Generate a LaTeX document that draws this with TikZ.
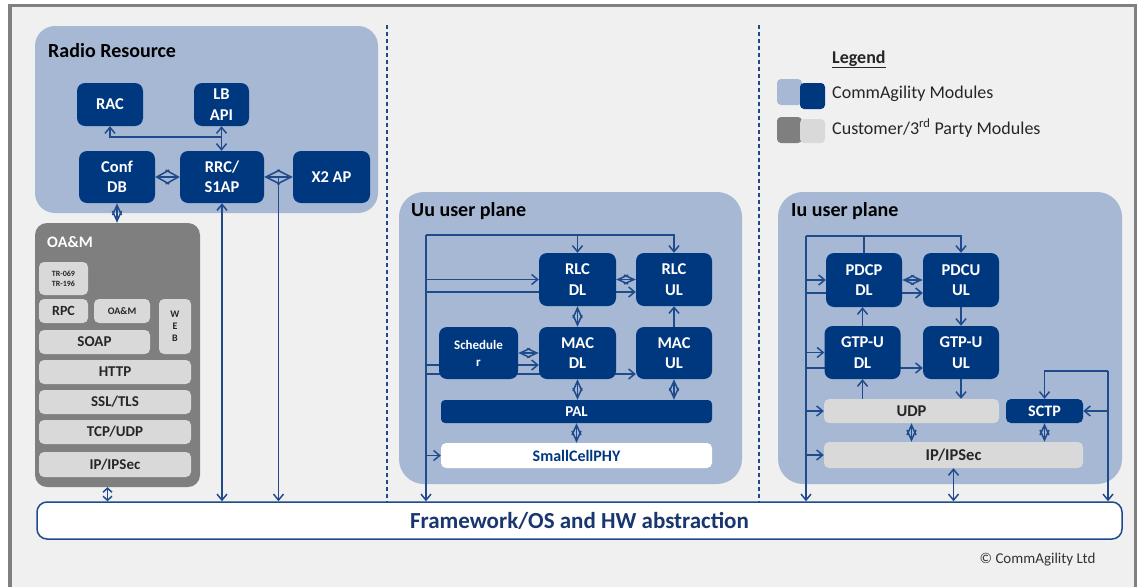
\documentclass[tikz,border=0pt]{standalone}
\usepackage{fontspec}
\setmainfont{Carlito}
\usetikzlibrary{arrows.meta,calc}
\definecolor{bgc}{RGB}{240,240,240}
\definecolor{framec}{RGB}{128,128,128}
\definecolor{panelc}{RGB}{166,184,211}
\definecolor{navy}{RGB}{0,56,128}
\definecolor{linec}{RGB}{31,75,140}
\definecolor{oamc}{RGB}{127,127,127}
\definecolor{lgray}{RGB}{217,217,217}
\definecolor{fwtext}{RGB}{25,55,110}
\pgfdeclarelayer{back}
\pgfdeclarelayer{wires}
\pgfsetlayers{back,wires,main}
\newcommand{\fsz}[2]{\fontsize{#1}{#2}\selectfont}

\begin{document}
\begin{tikzpicture}[x=1pt,y=-1pt,>={Straight Barb[length=6pt,width=10pt]},
  wire/.style={draw=linec,line width=1.5pt},
  dia/.style={>={Straight Barb[length=#1,width=9pt]},<->}, dia/.default=10pt,
  bigdia/.style={>={Straight Barb[length=#1,width=14pt]},<->},
  wh/.style 2 args={minimum width=#1pt,minimum height=#2pt},
  panel/.style={fill=panelc,rounded corners=20pt,inner sep=0pt},
  mod/.style={fill=navy,rounded corners=8pt,text=white,align=center,inner sep=0pt,
    font=\bfseries\fsz{16.5}{20.5}},
  cust/.style={fill=lgray,rounded corners=5pt,text=black!85,align=center,inner sep=0pt,
    font=\bfseries\fsz{15}{18}},
  ptitle/.style={anchor=base west,inner sep=0pt,font=\bfseries\fsz{20}{24}},
  legtext/.style={anchor=base west,inner sep=0pt,text=black!85,font=\fsz{18}{21}}]

  \useasboundingbox (0,0) rectangle (1144,587);

  \begin{pgfonlayer}{back}
    \fill[white] (0,0) rectangle (1144,587);
    \fill[bgc] (10,5) rectangle (1136,587);
    \draw[framec,line width=3.5pt] (10,587) -- (10,5.5) -- (1135.5,5.5) -- (1135.5,587);
    % the four big areas
    \node[panel,wh={343}{187}] (rr) at (206.5,119.5) {};
    \node[panel,wh={343}{292},rounded corners=25pt] (uu) at (570.5,338) {};
    \node[panel,wh={344}{292},rounded corners=25pt] (iu) at (950,338) {};
    \node[panel,fill=oamc,rounded corners=12pt,wh={165}{264}] (oam) at (117.5,355) {};
  \end{pgfonlayer}

  \node[ptitle] at (48,57) {Radio Resource};
  \node[ptitle] at (411,216) {Uu user plane};
  \node[ptitle] at (791,216) {Iu user plane};
  \node[ptitle,text=white,font=\bfseries\fsz{16}{19}] at (47,247) {OA\&M};

  % radio resource
  \node[mod,wh={66}{43}] (rac) at (110,104.5) {RAC};
  \node[mod,wh={55}{43}] (lbapi) at (221.5,104.5) {LB\\API};
  \node[mod,wh={76}{52}] (confdb) at (117,177) {Conf\\DB};
  \node[mod,wh={84}{52}] (rrc) at (222,177) {RRC/\\S1AP};
  \node[mod,wh={77}{52}] (x2ap) at (331.5,177) {X2 AP};

  % OA&M stack
  \node[cust,wh={49}{33},font=\bfseries\fsz{8}{10}] (tr) at (63.5,278.5) {TR-069\\TR-196};
  \node[cust,wh={49}{24},font=\bfseries\fsz{14}{16}] (rpc) at (63.5,311) {RPC};
  \node[cust,wh={56}{24},font=\bfseries\fsz{10}{12}] (oamsw) at (122,311) {OA\&M};
  \node[cust,wh={32}{55},font=\bfseries\fsz{10}{12}] (web) at (175,326.5) {W\\E\\B};
  \node[cust,wh={111}{24}] (soap) at (94.5,342) {SOAP};
  \node[cust,wh={152}{24}] (http) at (115,372) {HTTP};
  \node[cust,wh={152}{24}] (ssl) at (115,402) {SSL/TLS};
  \node[cust,wh={152}{24}] (tcp) at (115,432) {TCP/UDP};
  \node[cust,wh={152}{25}] (ipo) at (115,464.5) {IP/IPSec};

  \node[draw=linec,line width=1.5pt,fill=white,rounded corners=10pt,wh={1085}{37},
    text=fwtext,font=\bfseries\fsz{23}{26}] (fw) at (579.5,520.5) {Framework/OS and HW abstraction};

  % Uu user plane
  \node[mod,wh={77}{53}] (rlcdl) at (577.5,279.5) {RLC\\DL};
  \node[mod,wh={76}{53}] (rlcul) at (674,279.5) {RLC\\UL};
  \node[mod,wh={79}{52},font=\bfseries\fsz{13}{17}] (sched) at (478.5,353) {Schedule\\r};
  \node[mod,wh={77}{52}] (macdl) at (577.5,353) {MAC\\DL};
  \node[mod,wh={76}{52}] (macul) at (674,353) {MAC\\UL};
  \node[mod,wh={271}{23},rounded corners=4pt,font=\bfseries\fsz{15}{18}] (pal) at (576.5,411.5) {PAL};
  \node[mod,fill=white,text=navy,wh={271}{25},rounded corners=5pt,
    font=\bfseries\fsz{16}{19}] (phy) at (576.5,455.5) {SmallCellPHY};

  % Iu user plane
  \node[mod,wh={76}{54}] (pdcpdl) at (864,280) {PDCP\\DL};
  \node[mod,wh={76}{54}] (pdcuul) at (961,280) {PDCU\\UL};
  \node[mod,wh={76}{53}] (gtpdl) at (862.5,352.5) {GTP-U\\DL};
  \node[mod,wh={76}{53}] (gtpul) at (961,352.5) {GTP-U\\UL};
  \node[cust,wh={175}{24},font=\bfseries\fsz{16.5}{19}] (udp) at (911.5,411) {UDP};
  \node[mod,wh={77}{24},rounded corners=5pt,font=\bfseries\fsz{16}{19}] (sctp) at (1044.5,411) {SCTP};
  \node[cust,wh={259}{26},font=\bfseries\fsz{16.5}{19}] (ipi) at (953.5,455) {IP/IPSec};

  % legend
  \node[fill=panelc,rounded corners=4pt,wh={25}{26}] (lg1) at (789.5,92) {};
  \node[fill=navy,rounded corners=4pt,wh={25}{26}] (lg2) at (812.5,96) {};
  \node[fill=oamc,rounded corners=4pt,wh={25}{26}] (lg3) at (789.5,130) {};
  \node[fill=lgray,rounded corners=4pt,wh={25}{24}] (lg4) at (812.5,131) {};
  \node[legtext,font=\bfseries\fsz{18}{21}] at (832,63) {\underline{Legend}};
  \node[legtext] at (832,98) {CommAgility Modules};
  \node[legtext] at (832,134) {Customer/3\textsuperscript{rd} Party Modules};

  \node[font=\fsz{15}{18},text=black!80] (copy) at (1037.5,560) {\textcopyright{} CommAgility Ltd};

  \begin{pgfonlayer}{wires}
    \draw[linec,line width=1.2pt,dash pattern=on 4pt off 3pt] (387,25) -- (387,502);
    \draw[linec,line width=1.2pt,dash pattern=on 4pt off 3pt] (759,25) -- (759,502);

    % radio resource links
    \coordinate (lbj) at (221.5,137);
    \draw[wire,->] (lbj) -| (rac.south);
    \draw[wire,<->] (lbapi.south) -- (lbapi.south |- rrc.north);
    \draw[wire,bigdia=12.5pt] (confdb) -- (rrc);
    \draw[wire,bigdia=14pt] (rrc) -- (x2ap);
    \coordinate (x2j) at (278.5,177);
    \draw[wire,->] (x2j) -- (x2j |- fw.north);
    \draw[wire,<->] (rrc.south) -- (rrc.south |- fw.north);
    \draw[wire,dia] (confdb.south) -- (confdb.south |- oam.north);
    \coordinate (oamb) at ([xshift=-10pt]oam.south);
    \draw[wire,<->,>={Straight Barb[length=4pt,width=9pt]}] (oamb) -- (oamb |- fw.north);

    % Uu links
    \coordinate (ubus) at (426,235);
    \draw[wire,->] (ubus) -- (ubus |- fw.north);
    \draw[wire,->] (ubus) -| (rlcul.north);
    \draw[wire,->] (rlcdl.north |- ubus) -- (rlcdl.north);
    \draw[wire,->] (ubus |- rlcdl.west) -- (rlcdl.west);
    \coordinate (u1) at ($(rlcul.west)+(0,12.5)$);
    \draw[wire,->] (ubus |- u1) -- (u1);
    \draw[wire,dia] (rlcdl) -- (rlcul);
    \draw[wire,dia] (rlcdl) -- (macdl);
    \draw[wire,->] (macul) -- (rlcul);
    \draw[wire,dia] (sched) -- (macdl);
    \coordinate (u2) at ($(macdl.west)+(0,12)$);
    \draw[wire,->] (ubus |- u2) -- (u2);
    \coordinate (u3) at ($(macul.west)+(0,21)$);
    \draw[wire,->] (ubus |- u3) -- (u3);
    \draw[wire,dia] (macdl) -- (macdl |- pal.north);
    \draw[wire,dia] (macul) -- (macul |- pal.north);
    \draw[wire,dia] (pal) -- (phy);
    \draw[wire,->] (ubus |- phy.west) -- (phy.west);

    % Iu links
    \coordinate (ibus) at (806,236);
    \draw[wire,->] (ibus) -- (ibus |- fw.north);
    \draw[wire,->] (ibus) -| (pdcuul.north);
    \draw[wire] (pdcpdl.north) -- (pdcpdl.north |- ibus);
    \draw[wire,->] (ibus |- pdcpdl.west) -- (pdcpdl.west);
    \coordinate (i1) at ($(pdcuul.west)+(0,13)$);
    \draw[wire,->] (ibus |- i1) -- (i1);
    \draw[wire,dia] (pdcpdl) -- (pdcuul);
    \draw[wire,->] (gtpdl.north) -- (gtpdl.north |- pdcpdl.south);
    \draw[wire,->] (pdcuul) -- (gtpul);
    \draw[wire,->] (ibus |- gtpdl.west) -- (gtpdl.west);
    \coordinate (i2) at ($(gtpul.west)+(0,15.5)$);
    \draw[wire,->] (ibus |- i2) -- (i2);
    \draw[wire,->] (gtpdl.south |- udp.north) -- (gtpdl.south);
    \draw[wire,->] (gtpul.south) -- (gtpul.south |- udp.north);
    \draw[wire,->] (ibus |- udp.west) -- (udp.west);
    \draw[wire,->] (ibus |- ipi.west) -- (ipi.west);
    \draw[wire,dia] (udp) -- (udp |- ipi.north);
    \draw[wire,dia] (sctp) -- (sctp |- ipi.north);
    \coordinate (ir) at (1108,371);
    \draw[wire,->] (ir) -| (sctp.north);
    \draw[wire,->] (ir) -- (ir |- fw.north);
    \draw[wire,->] (ir |- sctp.east) -- (sctp.east);
    \draw[wire,<->] (ipi.south) -- (ipi.south |- fw.north);
  \end{pgfonlayer}
\end{tikzpicture}
\end{document}
